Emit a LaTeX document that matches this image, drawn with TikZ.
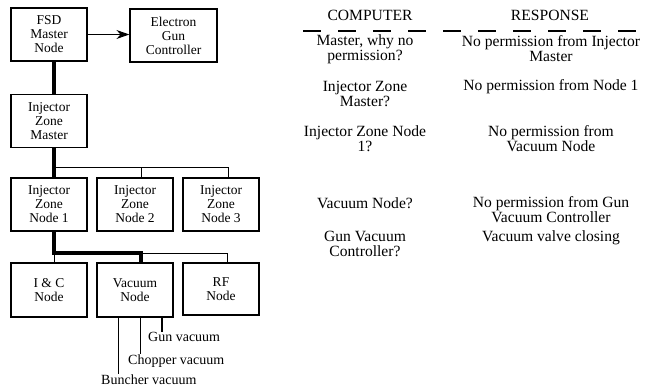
\documentclass[tikz,border=0pt]{standalone}
\usepackage{fontspec}
\setmainfont{Liberation Serif}
\usetikzlibrary{calc,arrows.meta}

\begin{document}
\begin{tikzpicture}[x=1pt,y=-1pt,
  box/.style={draw,line width=1.2pt,minimum width=76pt,minimum height=53pt,
    align=center,inner sep=1pt,font=\fontsize{13.5}{14}\selectfont},
  txt/.style={align=center,inner sep=0pt,font=\fontsize{15.6}{15}\selectfont},
  lbl/.style={anchor=west,inner sep=0pt,font=\fontsize{14}{14}\selectfont},
  trunk/.style={line width=4pt},
  bus/.style={line width=1pt}]
 \useasboundingbox (0,0) rectangle (648,388);

 % boxes
 \node[box] (fsd) at (49,34.5) {FSD\\Master\\Node};
 \node[box,minimum width=87pt] (egc) at (173.5,35.5) {Electron\\Gun\\Controller};
 \node[box] (izm) at (49,121) {Injector\\Zone\\Master};
 \node[box] (n1) at (49,204.5) {Injector\\Zone\\Node 1};
 \node[box] (n2) at (135,204.5) {Injector\\Zone\\Node 2};
 \node[box] (n3) at (221,204.5) {Injector\\Zone\\Node 3};
 \node[box,minimum height=54pt] (ic) at (49,290) {I \& C\\Node};
 \node[box,minimum height=54pt] (vac) at (135,290) {Vacuum\\Node};
 \node[box,minimum height=52pt] (rf) at (221,289) {RF\\Node};

 % links
 \draw[line width=1.2pt,->,>={Stealth[length=13pt,width=9pt]}] (fsd.east) -- (fsd.east -| egc.west);
 \draw[trunk] ([xshift=5]fsd.south) -- ([xshift=5]izm.north);
 \draw[trunk] ([xshift=5]izm.south) -- ([xshift=5]n1.north);
 \coordinate (t2) at ([xshift=6]n2.north);
 \coordinate (t3) at ([xshift=7]n3.north);
 \coordinate (tv) at ([xshift=6]vac.north);
 \coordinate (tr) at ([xshift=6]rf.north);
 \coordinate (b1) at (54,167);
 \draw[bus] (b1) -| (t3);
 \draw[bus] (b1 -| t2) -- (t2);
 \coordinate (b2) at (54,253);
 \draw[trunk] ([xshift=5]n1.south) |- (b2 -| tv) -- (tv);
 \draw[bus] (b2) -- ([xshift=5]ic.north);
 \draw[bus] (b2 -| tv) -| (tr);

 % vacuum lines
 \node[lbl] (gun) at (148,337) {Gun vacuum};
 \node[lbl] (chop) at (128,361) {Chopper vacuum};
 \node[lbl] (bun) at (101,379.5) {Buncher vacuum};
 \coordinate (v1) at ([xshift=27]vac.south);
 \coordinate (v2) at ([xshift=5]vac.south);
 \coordinate (v3) at ([xshift=-17]vac.south);
 \draw[line width=2.5pt] (v1) -- (v1 |- gun.north);
 \draw[bus] (v2) -- (v2 |- chop.north);
 \draw[bus] (v3) -- (v3 |- bun.north);

 % table
 \node[txt] (hc) at (370,15) {COMPUTER};
 \node[txt] (hr) at (550,15) {RESPONSE};
 \draw[line width=2pt,dash pattern=on 18pt off 17pt] (303,31) -- (648,31);
 \node[txt] (c1) at (365,49) {Master, why no\\permission?};
 \node[txt] (c2) at (365,94) {Injector Zone\\Master?};
 \node[txt] (c3) at (365,139) {Injector Zone Node\\1?};
 \node[txt] (c4) at (365,203) {Vacuum Node?};
 \node[txt] (c5) at (365,243.5) {Gun Vacuum\\Controller?};
 \node[txt] (r1) at (551,49) {No permission from Injector\\Master};
 \node[txt] (r2) at (551,87) {No permission from Node 1};
 \node[txt] (r3) at (551,139) {No permission from\\Vacuum Node};
 \node[txt] (r4) at (551,210) {No permission from Gun\\Vacuum Controller};
 \node[txt] (r5) at (551,238) {Vacuum valve closing};
\end{tikzpicture}
\end{document}
